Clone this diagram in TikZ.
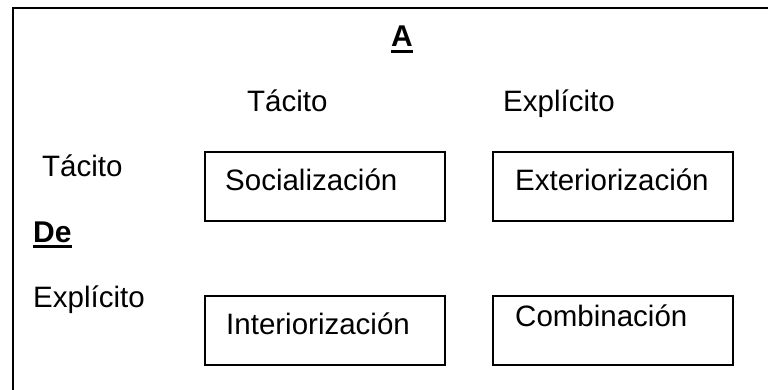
\documentclass[tikz,border=0pt]{standalone}
\usepackage{fontspec}
\setmainfont{Liberation Sans}
\newcommand\myul[1]{\setbox0\hbox{#1}\rlap{\usebox0}\raisebox{-6pt}{\rule{\wd0}{2.8pt}}}
\begin{document}
\begin{tikzpicture}[x=1pt,y=-1pt,
  txt/.style={anchor=base west,inner sep=0pt,font=\fontsize{29.5}{35}\selectfont},
  hdr/.style={anchor=base,inner sep=0pt,font=\fontsize{30}{36}\selectfont\bfseries},
  boxst/.style={draw=black,line width=1.6pt,minimum width=240pt,minimum height=69pt,inner sep=0pt},
  frame/.style={draw=black,line width=1.8pt}]
\useasboundingbox (0,0) rectangle (768,390);
\draw[frame] (768,8) -- (13,8) -- (13,392);
\node[hdr] (a) at (402,47) {\myul{A}};
\node[txt] (ct) at (247,112) {Tácito};
\node[txt] (ce) at (503,112) {Explícito};
\node[txt] (rt) at (42,177) {Tácito};
\node[hdr,anchor=base west] (de) at (33,242) {\myul{De}};
\node[txt] (re) at (33,307) {Explícito};
\node[boxst] (soc) at (325,186.5) {};
\node[boxst] (ext) at (613,186.5) {};
\node[boxst] (int) at (325,330.5) {};
\node[boxst] (com) at (613,330.5) {};
\node[txt] (soct) at (225,190) {Socialización};
\node[txt] (extt) at (515,190) {Exteriorización};
\node[txt] (intt) at (226,334) {Interiorización};
\node[txt] (comt) at (515,326) {Combinación};
\end{tikzpicture}
\end{document}
